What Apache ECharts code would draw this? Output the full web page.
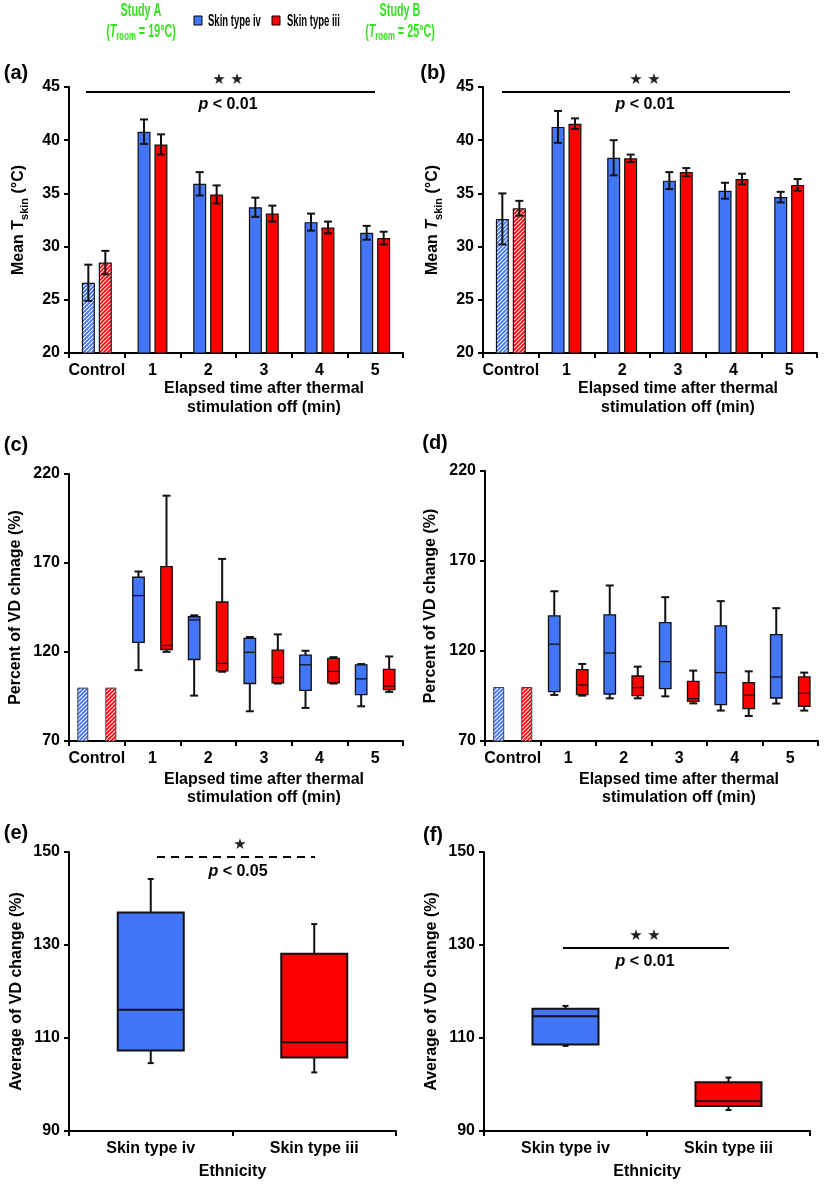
<!DOCTYPE html>
<html><head><meta charset="utf-8">
<script src="https://cdn.jsdelivr.net/npm/echarts@6/dist/echarts.min.js"></script>
<style>html,body{margin:0;padding:0;background:#fff}#c{width:827px;height:1187px}</style>
</head><body><div id="c"></div>
<script>
// ---------------- DATA ----------------
const categories = ['Control', '1', '2', '3', '4', '5'];
const ethnicity = ['Skin type iv', 'Skin type iii'];
const seriesNames = ['Skin type iv', 'Skin type iii'];

// (a) Study A: mean Tskin (°C) and SD
const aIvMean = [26.6, 40.8, 35.9, 33.7, 32.3, 31.3];
const aIvSd = [1.7, 1.15, 1.1, 0.9, 0.8, 0.65];
const aIiiMean = [28.5, 39.6, 34.9, 33.1, 31.8, 30.8];
const aIiiSd = [1.1, 0.95, 0.85, 0.75, 0.55, 0.6];

// (b) Study B: mean Tskin (°C) and SD
const bIvMean = [32.6, 41.25, 38.35, 36.2, 35.25, 34.65];
const bIvSd = [2.4, 1.5, 1.65, 0.8, 0.75, 0.5];
const bIiiMean = [33.6, 41.55, 38.3, 37.0, 36.35, 35.8];
const bIiiSd = [0.7, 0.5, 0.35, 0.38, 0.5, 0.55];

// control value (%) for (c) and (d)
const controlPct = 100;

// (c) Study A boxes: [min, Q1, median, Q3, max] for minutes 1..5
const cIvBox = [
  [109.8, 125.4, 151.7, 162.0, 165.2],
  [95.5, 115.8, 138.0, 139.8, 140.6],
  [86.7, 102.3, 119.8, 127.6, 128.4],
  [88.6, 98.4, 112.8, 118.3, 120.7],
  [89.5, 96.1, 104.9, 112.8, 113.2]
];
const cIiiBox = [
  [120.1, 121.4, 123.7, 168.0, 207.8],
  [108.9, 109.4, 113.6, 148.1, 172.3],
  [102.3, 102.7, 105.7, 121.1, 129.9],
  [102.3, 102.7, 109.1, 116.4, 117.1],
  [97.6, 98.9, 100.8, 110.2, 117.5]
];
// (d) Study B boxes
const dIvBox = [
  [95.6, 97.4, 123.8, 139.5, 153.2],
  [93.7, 96.1, 118.9, 140.1, 156.4],
  [94.8, 99.1, 114.1, 135.8, 149.9],
  [86.9, 90.2, 108.0, 134.0, 147.7],
  [90.8, 93.9, 105.6, 129.1, 143.8]
];
const dIiiBox = [
  [95.2, 95.8, 101.1, 109.7, 112.8],
  [93.7, 95.2, 99.7, 106.1, 111.3],
  [90.9, 92.0, 93.5, 103.1, 109.1],
  [83.9, 88.0, 95.5, 102.4, 108.7],
  [86.9, 89.3, 96.5, 105.6, 108.0]
];
// (e) / (f) average VD change boxes
const eIvBox = [104.6, 107.3, 116.1, 137.0, 144.2];
const eIiiBox = [102.6, 105.8, 109.1, 128.1, 134.5];
const fIvBox = [108.3, 108.6, 114.7, 116.3, 116.9];
const fIiiBox = [94.5, 95.4, 96.4, 100.5, 101.5];

// ---------------- STYLE ----------------
const FONT = '"Liberation Sans", Arial, Helvetica, sans-serif';
const BLUE = '#4275f8';
const RED = '#ff0000';
const GREEN = '#36e21f';
const INK = '#111';

function hatch(color) {
  const s = 4;
  const cv = document.createElement('canvas');
  cv.width = s; cv.height = s;
  const g = cv.getContext('2d');
  g.fillStyle = '#fff'; g.fillRect(0, 0, s, s);
  g.strokeStyle = color; g.lineWidth = 1.8;
  g.beginPath();
  g.moveTo(-1, s + 1); g.lineTo(s + 1, -1);
  g.moveTo(-1, 1); g.lineTo(1, -1);
  g.moveTo(s - 1, s + 1); g.lineTo(s + 1, s - 1);
  g.stroke();
  return { image: cv, repeat: 'repeat' };
}

const grids = [
  { left: 69, top: 87, width: 334, height: 266 },
  { left: 483, top: 87, width: 334, height: 266 },
  { left: 69, top: 474, width: 334, height: 267 },
  { left: 485, top: 471, width: 333, height: 270 },
  { left: 69, top: 852, width: 327, height: 279 },
  { left: 484, top: 852, width: 326, height: 279 }
];

const labelStyle = { color: '#000', fontFamily: FONT, fontWeight: 'bold', fontSize: 16 };

function xAx(gi, data, extra) {
  return Object.assign({
    type: 'category', gridIndex: gi, data: data,
    axisLine: { show: true, lineStyle: { color: '#000', width: 2 } },
    axisTick: { show: true, length: 5, lineStyle: { color: '#000', width: 2 } },
    axisLabel: Object.assign({ interval: 0, margin: 10 }, labelStyle),
    splitLine: { show: false }
  }, extra || {});
}
const nameRich = {
  n: { fontFamily: FONT, fontWeight: 'bold', fontSize: 16, color: '#000', lineHeight: 22 },
  t: { fontFamily: FONT, fontWeight: 'bold', fontStyle: 'italic', fontSize: 16, color: '#000', lineHeight: 22 },
  s: { fontFamily: FONT, fontWeight: 'bold', fontSize: 11, color: '#000', lineHeight: 11, verticalAlign: 'bottom' }
};
function yAx(gi, min, max, interval, name, gap) {
  return {
    type: 'value', gridIndex: gi, min: min, max: max, interval: interval,
    name: name, nameLocation: 'middle', nameGap: gap,
    nameTextStyle: Object.assign({ rich: nameRich }, labelStyle),
    axisLine: { show: true, lineStyle: { color: '#000', width: 2 } },
    axisTick: { show: true, length: 5, lineStyle: { color: '#000', width: 2 } },
    axisLabel: Object.assign({ margin: 9 }, labelStyle),
    splitLine: { show: false }
  };
}

function barData(arr, color) {
  return arr.map((v, i) => i === 0 ? { value: v, itemStyle: { color: hatch(color) } } : v);
}
function ctrlData(v, color) {
  return categories.map((c, i) => i === 0 ? { value: v, itemStyle: { color: hatch(color) } } : '-');
}
function errData(mean, sd) {
  return mean.map((m, i) => [i, m - sd[i], m + sd[i]]);
}
function errRender(offset, cap) {
  return function (params, api) {
    const i = api.value(0);
    const lo = api.coord([i, api.value(1)]);
    const hi = api.coord([i, api.value(2)]);
    const x = lo[0] + offset;
    const st = { stroke: INK, lineWidth: 2 };
    return {
      type: 'group', children: [
        { type: 'line', shape: { x1: x, y1: lo[1], x2: x, y2: hi[1] }, style: st },
        { type: 'line', shape: { x1: x - cap / 2, y1: lo[1], x2: x + cap / 2, y2: lo[1] }, style: st },
        { type: 'line', shape: { x1: x - cap / 2, y1: hi[1], x2: x + cap / 2, y2: hi[1] }, style: st }
      ]
    };
  };
}
function boxRender(offset, w, cap, lw, bw) {
  return function (params, api) {
    const i = api.value(0);
    const x = api.coord([i, api.value(1)])[0] + offset;
    const y = [1, 2, 3, 4, 5].map(k => api.coord([i, api.value(k)])[1]);
    const color = api.visual('color');
    const st = { stroke: INK, lineWidth: lw };
    return {
      type: 'group', children: [
        { type: 'line', shape: { x1: x, y1: y[0], x2: x, y2: y[1] }, style: st },
        { type: 'line', shape: { x1: x, y1: y[3], x2: x, y2: y[4] }, style: st },
        { type: 'line', shape: { x1: x - cap / 2, y1: y[0], x2: x + cap / 2, y2: y[0] }, style: st },
        { type: 'line', shape: { x1: x - cap / 2, y1: y[4], x2: x + cap / 2, y2: y[4] }, style: st },
        { type: 'rect', shape: { x: x - w / 2, y: y[3], width: w, height: y[1] - y[3] }, style: { fill: color, stroke: INK, lineWidth: bw } },
        { type: 'line', shape: { x1: x - w / 2, y1: y[2], x2: x + w / 2, y2: y[2] }, style: { stroke: INK, lineWidth: bw } }
      ]
    };
  };
}
function boxSeries(gi, name, boxes, startIdx, color, offset, w, cap, lw, bw) {
  return {
    type: 'custom', name: name, xAxisIndex: gi, yAxisIndex: gi,
    itemStyle: { color: color },
    encode: { x: 0, y: [1, 2, 3, 4, 5] },
    data: boxes.map((b, k) => [startIdx + k].concat(b)),
    renderItem: boxRender(offset, w, cap, lw, bw),
    z: 3
  };
}

const series = [];
// (a), (b) bars with error bars
[[0, aIvMean, aIvSd, aIiiMean, aIiiSd], [1, bIvMean, bIvSd, bIiiMean, bIiiSd]].forEach(function (p) {
  const gi = p[0];
  series.push({ type: 'bar', name: seriesNames[0], xAxisIndex: gi, yAxisIndex: gi, data: barData(p[1], BLUE), barWidth: 13, barGap: '30%', itemStyle: { color: BLUE, borderColor: INK, borderWidth: 1.2 } });
  series.push({ type: 'bar', name: seriesNames[1], xAxisIndex: gi, yAxisIndex: gi, data: barData(p[3], RED), barWidth: 13, barGap: '30%', itemStyle: { color: RED, borderColor: INK, borderWidth: 1.2 } });
  series.push({ type: 'custom', xAxisIndex: gi, yAxisIndex: gi, data: errData(p[1], p[2]), encode: { x: 0, y: [1, 2] }, renderItem: errRender(-8.5, 8), z: 4 });
  series.push({ type: 'custom', xAxisIndex: gi, yAxisIndex: gi, data: errData(p[3], p[4]), encode: { x: 0, y: [1, 2] }, renderItem: errRender(8.5, 8), z: 4 });
});
// (c), (d) control bars + boxes
[[2, cIvBox, cIiiBox], [3, dIvBox, dIiiBox]].forEach(function (p) {
  const gi = p[0];
  series.push({ type: 'bar', name: seriesNames[0], xAxisIndex: gi, yAxisIndex: gi, data: ctrlData(controlPct, BLUE), barWidth: 11, barGap: '155%', itemStyle: { color: BLUE, borderColor: '#444', borderWidth: 1 } });
  series.push({ type: 'bar', name: seriesNames[1], xAxisIndex: gi, yAxisIndex: gi, data: ctrlData(controlPct, RED), barWidth: 11, barGap: '155%', itemStyle: { color: RED, borderColor: '#444', borderWidth: 1 } });
  series.push(boxSeries(gi, seriesNames[0], p[1], 1, BLUE, -14, 11.5, 8, 2, 1.3));
  series.push(boxSeries(gi, seriesNames[1], p[2], 1, RED, 14, 11.5, 8, 2, 1.3));
});
// (e), (f)
series.push(boxSeries(4, seriesNames[0], [eIvBox], 0, BLUE, 0, 66, 6, 2, 2));
series.push(boxSeries(4, seriesNames[1], [eIiiBox], 1, RED, 0, 66, 6, 2, 2));
series.push(boxSeries(5, seriesNames[0], [fIvBox], 0, BLUE, 0, 66, 6, 2, 2));
series.push(boxSeries(5, seriesNames[1], [fIiiBox], 1, RED, 0, 66, 6, 2, 2));

const tRich = {
  n: { fontFamily: FONT, fontWeight: 'bold', fontSize: 16, fill: '#000' },
  i: { fontFamily: FONT, fontWeight: 'bold', fontStyle: 'italic', fontSize: 16, fill: '#000' }
};
function txt(x, y, text, opts) {
  return {
    type: 'text', x: x, y: y, z: 10,
    style: Object.assign({ text: text, fill: '#000', font: 'bold 16px ' + FONT, align: 'center', verticalAlign: 'middle' }, opts || {})
  };
}
function pText(x, y, val) {
  return txt(x, y, '{i|p}{n| < ' + val + '}', { rich: tRich });
}
function star(x, y) {
  return txt(x, y, '\u2605', { font: '15px "DejaVu Sans", sans-serif', fill: '#222' });
}
function hline(x1, x2, y, dash) {
  return { type: 'line', z: 10, shape: { x1: x1, y1: y, x2: x2, y2: y }, style: { stroke: '#000', lineWidth: 2, lineDash: dash || null } };
}
function roomText(x, y, t) {
  return {
    type: 'text', x: x, y: y, scaleX: 0.6, z: 10,
    style: {
      text: '{a|(}{i|T}{s|room}{a| = ' + t + ')}', align: 'center', verticalAlign: 'middle',
      rich: {
        a: { font: 'bold 18px ' + FONT, fill: GREEN, lineHeight: 22 },
        i: { font: 'italic bold 18px ' + FONT, fill: GREEN, lineHeight: 22 },
        s: { font: 'bold 13px ' + FONT, fill: GREEN, lineHeight: 12, verticalAlign: 'bottom' }
      }
    }
  };
}

const graphic = [
  // header
  Object.assign(txt(141, 11, 'Study A', { fill: GREEN, font: 'bold 18px ' + FONT }), { scaleX: 0.6 }),
  roomText(141, 32, '19\u00B0C'),
  Object.assign(txt(400, 11, 'Study B', { fill: GREEN, font: 'bold 18px ' + FONT }), { scaleX: 0.6 }),
  roomText(400, 32, '25\u00B0C'),
  { type: 'rect', shape: { x: 194, y: 16, width: 8, height: 9 }, style: { fill: BLUE, stroke: '#000', lineWidth: 1 } },
  Object.assign(txt(208, 21, seriesNames[0], { align: 'left', font: 'bold 17px ' + FONT }), { scaleX: 0.56 }),
  { type: 'rect', shape: { x: 272, y: 16, width: 8, height: 9 }, style: { fill: RED, stroke: '#000', lineWidth: 1 } },
  Object.assign(txt(287, 21, seriesNames[1], { align: 'left', font: 'bold 17px ' + FONT }), { scaleX: 0.56 }),
  // panel labels
  txt(16, 73, '(a)', { font: 'bold 20px ' + FONT }),
  txt(433, 73, '(b)', { font: 'bold 20px ' + FONT }),
  txt(16, 445, '(c)', { font: 'bold 20px ' + FONT }),
  txt(435, 443, '(d)', { font: 'bold 20px ' + FONT }),
  txt(16, 833, '(e)', { font: 'bold 20px ' + FONT }),
  txt(433, 835, '(f)', { font: 'bold 20px ' + FONT }),
  // x axis titles
  txt(264, 389, 'Elapsed time after thermal'), txt(264, 408, 'stimulation off (min)'),
  txt(678, 389, 'Elapsed time after thermal'), txt(678, 408, 'stimulation off (min)'),
  txt(264, 780, 'Elapsed time after thermal'), txt(264, 798, 'stimulation off (min)'),
  txt(679, 780, 'Elapsed time after thermal'), txt(679, 798, 'stimulation off (min)'),
  // significance (a)
  hline(86, 375, 92), star(219, 80), star(237, 80), pText(228, 105, '0.01'),
  // (b)
  hline(502, 790, 92), star(636, 80), star(654, 80), pText(645, 105, '0.01'),
  // (e)
  hline(157, 315, 857, [8, 6]), star(240, 845), pText(238, 872, '0.05'),
  // (f)
  hline(563, 729, 948), star(636, 936), star(654, 936), pText(645, 962, '0.01')
];

const option = {
  animation: false,
  backgroundColor: '#fff',
  grid: grids,
  xAxis: [
    xAx(0, categories), xAx(1, categories), xAx(2, categories), xAx(3, categories),
    xAx(4, ethnicity, { name: 'Ethnicity', nameLocation: 'middle', nameGap: 33, nameTextStyle: labelStyle }),
    xAx(5, ethnicity, { name: 'Ethnicity', nameLocation: 'middle', nameGap: 33, nameTextStyle: labelStyle })
  ],
  yAxis: [
    yAx(0, 20, 45, 5, '{n|Mean T}{s|skin}{n| (\u00B0C)}', 39),
    yAx(1, 20, 45, 5, '{n|Mean }{t|T}{s|skin}{n| (\u00B0C)}', 39),
    yAx(2, 70, 220, 50, 'Percent of VD chnage (%)', 45),
    yAx(3, 70, 220, 50, 'Percent of VD change (%)', 46),
    yAx(4, 90, 150, 20, 'Average of VD change (%)', 44),
    yAx(5, 90, 150, 20, 'Average of VD change (%)', 44)
  ],
  series: series,
  graphic: graphic
};

const chart = echarts.init(document.getElementById('c'), null, { renderer: 'canvas' });
chart.setOption(option);
</script>
</body></html>
